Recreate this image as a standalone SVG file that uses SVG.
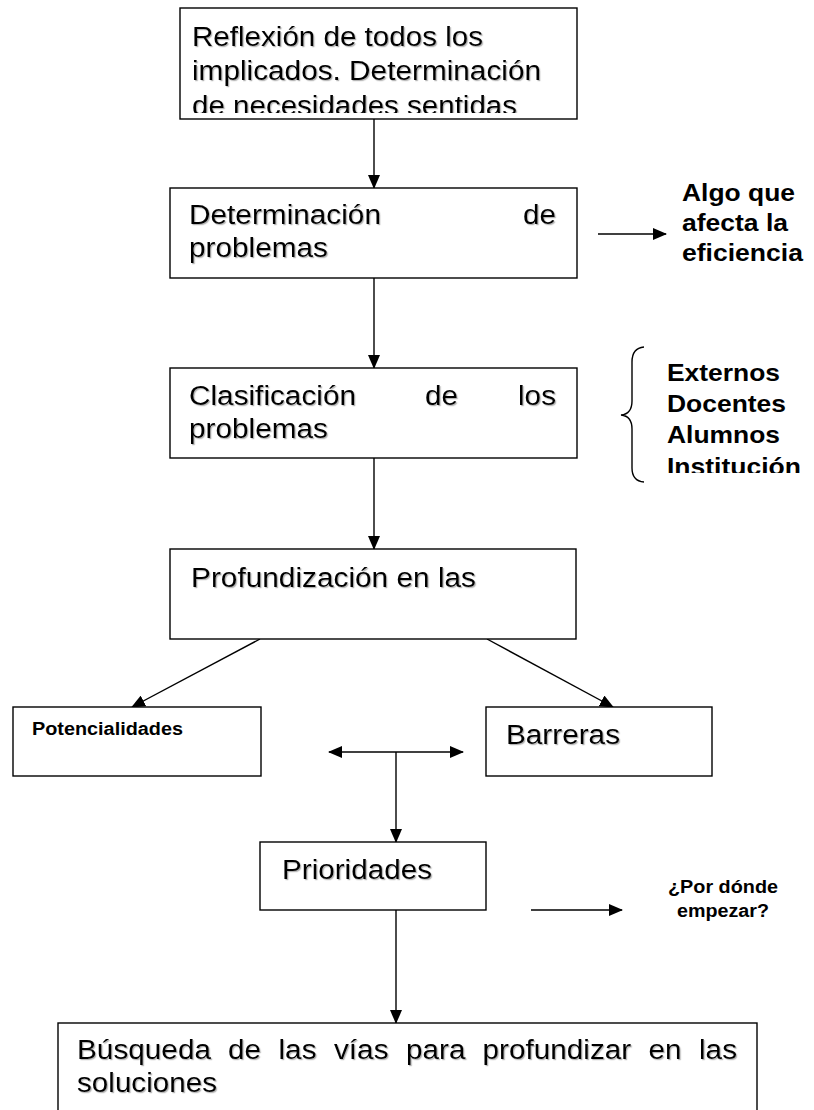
<svg xmlns="http://www.w3.org/2000/svg" width="814" height="1110" viewBox="0 0 814 1110">
<style>
.box{fill:#fff;stroke:#000;stroke-width:1.4}
.ln{fill:none;stroke:#000;stroke-width:1.4}
.t{font-family:"Liberation Sans",Arial,sans-serif;font-size:27px;fill:#000;filter:url(#sh)}
.b{font-family:"Liberation Sans",Arial,sans-serif;font-weight:bold;fill:#000}
.b24{font-size:24px}
.b18{font-size:18px}
</style>
<defs>
<filter id="sh" x="-5%" y="-20%" width="115%" height="150%">
<feDropShadow dx="1.2" dy="1.2" stdDeviation="0.5" flood-color="#777" flood-opacity="0.55"/>
</filter>
<marker id="ah" markerUnits="userSpaceOnUse" markerWidth="14" markerHeight="12" viewBox="0 0 14 12" refX="13" refY="6" orient="auto-start-reverse">
<path d="M0,0 L14,6 L0,12 z" fill="#000"/>
</marker>
<clipPath id="c1"><rect x="180" y="8" width="397" height="105"/></clipPath>
<clipPath id="c2"><rect x="600" y="340" width="214" height="133"/></clipPath>
</defs>

<g id="connectors">
<line class="ln" x1="374" y1="119" x2="374" y2="188" marker-end="url(#ah)"/>
<line class="ln" x1="374" y1="278" x2="374" y2="368" marker-end="url(#ah)"/>
<line class="ln" x1="374" y1="458" x2="374" y2="549" marker-end="url(#ah)"/>
<line class="ln" x1="260" y1="639" x2="132" y2="707" marker-end="url(#ah)"/>
<line class="ln" x1="487" y1="639" x2="613" y2="707" marker-end="url(#ah)"/>
<line class="ln" x1="598" y1="234" x2="666" y2="234" marker-end="url(#ah)"/>
<line class="ln" x1="329" y1="752" x2="463" y2="752" marker-start="url(#ah)" marker-end="url(#ah)"/>
<line class="ln" x1="396" y1="752" x2="396" y2="842" marker-end="url(#ah)"/>
<line class="ln" x1="531" y1="910" x2="622" y2="910" marker-end="url(#ah)"/>
<line class="ln" x1="396" y1="910" x2="396" y2="1023" marker-end="url(#ah)"/>
<path class="ln" d="M644,347 Q632,348 632,362 L632,401 Q632,414 621,415 Q632,416 632,429 L632,468 Q632,481 644,482"/>
</g>

<g id="n1">
<rect class="box" x="180" y="8" width="397" height="111"/>
<g clip-path="url(#c1)">
<text class="t" x="192" y="46" textLength="291" lengthAdjust="spacingAndGlyphs">Reflexión de todos los</text>
<text class="t" x="192" y="80" textLength="349" lengthAdjust="spacingAndGlyphs">implicados. Determinación</text>
<text class="t" x="192" y="114.5" textLength="325" lengthAdjust="spacingAndGlyphs">de necesidades sentidas</text>
</g>
</g>

<g id="n2">
<rect class="box" x="170" y="188" width="407" height="90"/>
<text class="t" x="189" y="224" textLength="192" lengthAdjust="spacingAndGlyphs">Determinación</text>
<text class="t" x="523" y="224" textLength="33" lengthAdjust="spacingAndGlyphs">de</text>
<text class="t" x="189" y="257" textLength="139" lengthAdjust="spacingAndGlyphs">problemas</text>
</g>

<g id="n2note">
<text class="b b24" x="682" y="201" textLength="113" lengthAdjust="spacingAndGlyphs">Algo que</text>
<text class="b b24" x="682" y="231" textLength="106" lengthAdjust="spacingAndGlyphs">afecta la</text>
<text class="b b24" x="682" y="261" textLength="121" lengthAdjust="spacingAndGlyphs">eficiencia</text>
</g>

<g id="n3">
<rect class="box" x="170" y="368" width="407" height="90"/>
<text class="t" x="189" y="405" textLength="167" lengthAdjust="spacingAndGlyphs">Clasificación</text>
<text class="t" x="425" y="405" textLength="33" lengthAdjust="spacingAndGlyphs">de</text>
<text class="t" x="518" y="405" textLength="38" lengthAdjust="spacingAndGlyphs">los</text>
<text class="t" x="189" y="438" textLength="139" lengthAdjust="spacingAndGlyphs">problemas</text>
</g>

<g id="n3note" clip-path="url(#c2)">
<text class="b b24" x="667" y="381" textLength="113" lengthAdjust="spacingAndGlyphs">Externos</text>
<text class="b b24" x="667" y="412" textLength="119" lengthAdjust="spacingAndGlyphs">Docentes</text>
<text class="b b24" x="667" y="443" textLength="113" lengthAdjust="spacingAndGlyphs">Alumnos</text>
<text class="b b24" x="667" y="475" textLength="134" lengthAdjust="spacingAndGlyphs">Institución</text>
</g>

<g id="n4">
<rect class="box" x="170" y="549" width="406" height="90"/>
<text class="t" x="191" y="587" textLength="285" lengthAdjust="spacingAndGlyphs">Profundización en las</text>
</g>

<g id="n5">
<rect class="box" x="13" y="707" width="248" height="69"/>
<text class="b b18" x="32" y="735" textLength="151" lengthAdjust="spacingAndGlyphs">Potencialidades</text>
</g>

<g id="n6">
<rect class="box" x="486" y="707" width="226" height="69"/>
<text class="t" x="506" y="744" textLength="114" lengthAdjust="spacingAndGlyphs">Barreras</text>
</g>

<g id="n7">
<rect class="box" x="260" y="842" width="226" height="68"/>
<text class="t" x="282" y="879" textLength="150" lengthAdjust="spacingAndGlyphs">Prioridades</text>
</g>

<g id="n7note">
<text class="b b18" x="668" y="893" textLength="110" lengthAdjust="spacingAndGlyphs">¿Por dónde</text>
<text class="b b18" x="677" y="917" textLength="92" lengthAdjust="spacingAndGlyphs">empezar?</text>
</g>

<g id="n8">
<rect class="box" x="58" y="1023" width="699" height="100"/>
<text class="t" y="1059"><tspan x="77" textLength="134" lengthAdjust="spacingAndGlyphs">Búsqueda</tspan><tspan x="228" textLength="33" lengthAdjust="spacingAndGlyphs">de</tspan><tspan x="278.5" textLength="38" lengthAdjust="spacingAndGlyphs">las</tspan><tspan x="334" textLength="54.5" lengthAdjust="spacingAndGlyphs">vías</tspan><tspan x="406" textLength="59.4" lengthAdjust="spacingAndGlyphs">para</tspan><tspan x="482.6" textLength="148.6" lengthAdjust="spacingAndGlyphs">profundizar</tspan><tspan x="648.6" textLength="33" lengthAdjust="spacingAndGlyphs">en</tspan><tspan x="699" textLength="38" lengthAdjust="spacingAndGlyphs">las</tspan></text>
<text class="t" x="77" y="1092" textLength="140" lengthAdjust="spacingAndGlyphs">soluciones</text>
</g>
</svg>
